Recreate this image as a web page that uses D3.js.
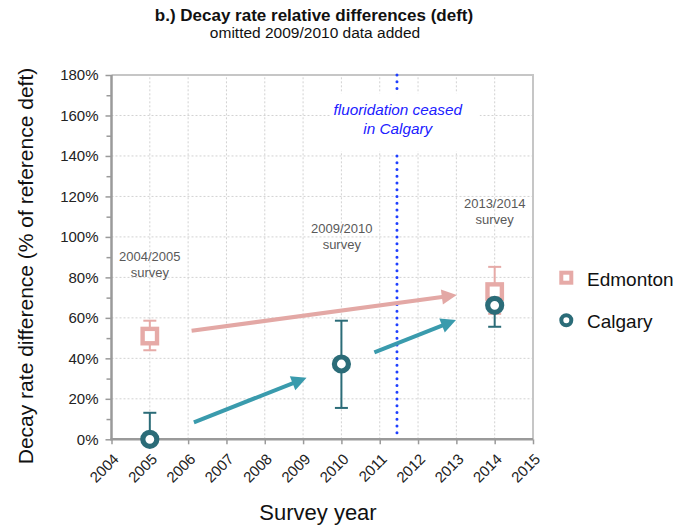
<!DOCTYPE html>
<html><head><meta charset="utf-8">
<script src="https://cdn.jsdelivr.net/npm/d3@7"></script>
<style>body{margin:0;background:#fff;} svg{display:block;font-family:"Liberation Sans",Arial,sans-serif;}</style>
</head><body>
<script>
// ---- data ----
const yearTicks = [2004,2005,2006,2007,2008,2009,2010,2011,2012,2013,2014,2015];
const pctTicks = [0,20,40,60,80,100,120,140,160,180];
const pctMinor = [10,30,50,70,90,110,130,150,170];

const edmYears = [2005, 2014];
const edmValues = [51, 73];
const edmLow = [44, 62];
const edmHigh = [58.6, 85.2];

const calYears = [2005, 2010, 2014];
const calValues = [0, 37.2, 66.2];
const calLow = [0, 15.5, 55.6];
const calHigh = [13.1, 58.6, 76];

const edmArrows = [[[2006.09, 53.6],[2013.01, 71.3]]];
const calArrows = [[[2006.15, 8.4],[2009.09, 30.4]], [[2010.86, 43.0],[2012.99, 58.9]]];

const ceasedYear = 2011.45;
const surveyNotes = [
  {x:2005.0, y:88.0, lines:["2004/2005","survey"]},
  {x:2010.01, y:101.7, lines:["2009/2010","survey"]},
  {x:2014.0, y:114.4, lines:["2013/2014","survey"]}
];
const ceasedNote = {x:2011.47, y:160.1, lines:["fluoridation ceased","in Calgary"]};

const seriesNames = ["Edmonton","Calgary"];
const colEdm = "#e6aaa7", colCal = "#2b6c78", colCalArrow = "#3a9bad", colEdmArrow = "#e3a8a5";

// ---- chart ----
const W=680,H=527;
const svg = d3.select("body").append("svg").attr("width",W).attr("height",H);
const x = d3.scaleLinear().domain([2004,2015]).range([111.5,533]);
const y = d3.scaleLinear().domain([0,180]).range([439.3,75]);

// gridlines
const grid = svg.append("g").attr("stroke","#d2d2d2").attr("stroke-width",1).attr("stroke-dasharray","2,2");
grid.selectAll(".gx").data(yearTicks.slice(1,-1)).enter().append("line")
  .attr("x1",d=>x(d)).attr("x2",d=>x(d)).attr("y1",y(0)).attr("y2",y(180));
grid.selectAll(".gy").data(pctTicks.slice(1,-1)).enter().append("line")
  .attr("x1",x(2004)).attr("x2",x(2015)).attr("y1",d=>y(d)).attr("y2",d=>y(d));

// border top & right
svg.append("path").attr("d",`M${x(2004)},${y(180)}H${x(2015)}V${y(0)}`)
  .attr("fill","none").attr("stroke","#c6c6c6").attr("stroke-width",2);

// ceased line
const cx = x(ceasedYear);
svg.append("line").attr("x1",cx).attr("x2",cx).attr("y1",y(180)).attr("y2",y(0))
  .attr("stroke","#1f3fff").attr("stroke-width",3).attr("stroke-linecap","round")
  .attr("stroke-dasharray","0,6.75");

// ceased note with white background
const cg = svg.append("g");
cg.append("rect").attr("x",x(ceasedNote.x)-67).attr("y",y(ceasedNote.y)-22)
  .attr("width",149).attr("height",58).attr("fill","#fff");
ceasedNote.lines.forEach((t,i)=>{
  cg.append("text").attr("x",x(ceasedNote.x)).attr("y",y(ceasedNote.y)+i*18.3)
    .attr("text-anchor","middle").attr("font-size",15.3).attr("font-style","italic")
    .attr("fill","#2020ff").text(t);
});

// survey notes
surveyNotes.forEach(n=>{
  n.lines.forEach((t,i)=>{
    svg.append("text").attr("x",x(n.x)).attr("y",y(n.y)+i*15.8)
      .attr("text-anchor","middle").attr("font-size",13).attr("fill","#595959").text(t);
  });
});

// axes
const axL = svg.append("g").attr("transform",`translate(${x(2004)},0)`)
  .call(d3.axisLeft(y).tickValues(pctTicks).tickSize(6).tickPadding(7).tickFormat(d=>d+"%"));
const axLm = svg.append("g").attr("transform",`translate(${x(2004)},0)`)
  .call(d3.axisLeft(y).tickValues(pctMinor).tickSize(5).tickFormat(""));
[axL,axLm].forEach(a=>{a.select(".domain").remove(); a.selectAll("line").attr("stroke","#9a9a9a").attr("stroke-width",1.5);});
axL.selectAll("text").attr("font-size",15).attr("fill","#222").attr("font-family","Liberation Sans,Arial,sans-serif");

const axB = svg.append("g").attr("transform",`translate(0,${y(0)})`)
  .call(d3.axisBottom(x).tickValues(yearTicks).tickSize(5).tickFormat(d3.format("d")));
axB.select(".domain").remove();
axB.selectAll("line").attr("stroke","#9a9a9a").attr("stroke-width",1.5);
axB.selectAll("text").attr("font-size",15).attr("fill","#222").attr("font-family","Liberation Sans,Arial,sans-serif")
  .attr("text-anchor","end").attr("x",0).attr("y",0).attr("dy","0.35em")
  .attr("transform","translate(4,17) rotate(-45)");

svg.append("line").attr("x1",x(2004)).attr("x2",x(2004)).attr("y1",y(180)).attr("y2",y(0)+1)
  .attr("stroke","#9a9a9a").attr("stroke-width",2.5);
svg.append("line").attr("x1",x(2004)-1).attr("x2",x(2015)).attr("y1",y(0)).attr("y2",y(0))
  .attr("stroke","#9a9a9a").attr("stroke-width",2.5);

// arrows
function arrow(a,col){
  const x1=x(a[0][0]),y1=y(a[0][1]),x2=x(a[1][0]),y2=y(a[1][1]);
  const ang=Math.atan2(y2-y1,x2-x1), hl=15, hw=7.5;
  const bx=x2-hl*Math.cos(ang), by=y2-hl*Math.sin(ang);
  svg.append("line").attr("x1",x1).attr("y1",y1).attr("x2",bx+2*Math.cos(ang)).attr("y2",by+2*Math.sin(ang))
    .attr("stroke",col).attr("stroke-width",4);
  const px=-Math.sin(ang), py=Math.cos(ang);
  svg.append("path").attr("d",`M${x2},${y2}L${bx+hw*px},${by+hw*py}L${bx-hw*px},${by-hw*py}Z`).attr("fill",col);
}
edmArrows.forEach(a=>arrow(a,colEdmArrow));
calArrows.forEach(a=>arrow(a,colCalArrow));

// error bars
function errbars(years,lo,hi,col){
  const g=svg.append("g").attr("stroke",col).attr("stroke-width",2);
  years.forEach((yr,i)=>{
    g.append("line").attr("x1",x(yr)).attr("x2",x(yr)).attr("y1",y(lo[i])).attr("y2",y(hi[i]));
    g.append("line").attr("x1",x(yr)-6.5).attr("x2",x(yr)+6.5).attr("y1",y(hi[i])).attr("y2",y(hi[i]));
    if(lo[i]>0) g.append("line").attr("x1",x(yr)-6.5).attr("x2",x(yr)+6.5).attr("y1",y(lo[i])).attr("y2",y(lo[i]));
  });
}
errbars(edmYears,edmLow,edmHigh,colEdm);
errbars(calYears,calLow,calHigh,colCal);

// markers
svg.selectAll(".edm").data(edmYears).enter().append("rect")
  .attr("x",d=>x(d)-7.2).attr("y",(d,i)=>y(edmValues[i])-7.2).attr("width",14.4).attr("height",14.4)
  .attr("fill","#fff").attr("stroke",colEdm).attr("stroke-width",4.4);
svg.selectAll(".cal").data(calYears).enter().append("circle")
  .attr("cx",d=>x(d)).attr("cy",(d,i)=>y(calValues[i])).attr("r",7)
  .attr("fill","#fff").attr("stroke",colCal).attr("stroke-width",5.2);

// legend
svg.append("rect").attr("x",561.3).attr("y",272.7).attr("width",10).attr("height",10)
  .attr("fill","#fff").attr("stroke",colEdm).attr("stroke-width",4);
svg.append("circle").attr("cx",566.3).attr("cy",320.3).attr("r",5)
  .attr("fill","#fff").attr("stroke",colCal).attr("stroke-width",4);
svg.append("text").attr("x",587).attr("y",285.5).attr("font-size",19).attr("fill","#111").text(seriesNames[0]);
svg.append("text").attr("x",587).attr("y",327.5).attr("font-size",19).attr("fill","#111").text(seriesNames[1]);

// titles
svg.append("text").attr("x",314).attr("y",21).attr("text-anchor","middle").attr("font-size",17)
  .attr("font-weight","bold").attr("fill","#111").text("b.) Decay rate relative differences (deft)");
svg.append("text").attr("x",315).attr("y",38).attr("text-anchor","middle").attr("font-size",15.5)
  .attr("fill","#111").text("omitted 2009/2010 data added");
svg.append("text").attr("transform","translate(33,266) rotate(-90)").attr("text-anchor","middle")
  .attr("font-size",21).attr("fill","#111").text("Decay rate difference (% of reference deft)");
svg.append("text").attr("x",318).attr("y",520).attr("text-anchor","middle")
  .attr("font-size",22).attr("fill","#111").text("Survey year");
</script>
</body></html>
